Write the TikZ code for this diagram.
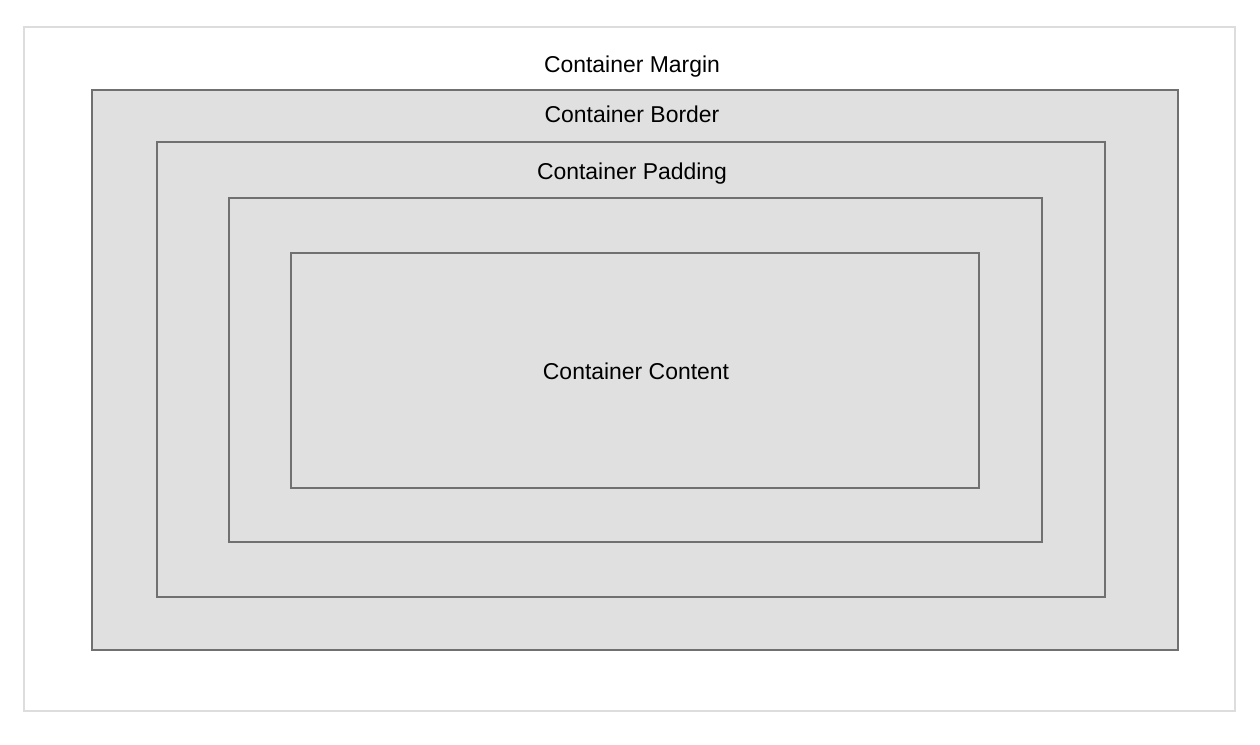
\documentclass[tikz,border=0pt]{standalone}
\usepackage{fontspec}
\setmainfont{Liberation Sans}
\definecolor{boxfill}{RGB}{224,224,224}
\definecolor{boxline}{RGB}{112,112,112}
\definecolor{frameline}{RGB}{221,221,221}
\tikzset{
  layerbox/.style={draw=boxline,fill=boxfill,line width=1.1pt},
  layerlabel/.style={anchor=base,inner sep=0pt,font=\fontsize{17.2}{20}\selectfont}
}
\begin{document}
\begin{tikzpicture}[x=0.75pt,y=0.75pt,yscale=-1,xscale=1]
\useasboundingbox (0,0) rectangle (1260,745);
\fill[white] (0,0) rectangle (1260,745);

%Shape: Outer frame
\draw[frameline,line width=2.2pt] (24,27) rectangle (1235,711);

%Shape: Rectangle [border]
\draw[layerbox] (92,90) rectangle (1178,650);
%Shape: Rectangle [padding]
\draw[layerbox] (157,142) rectangle (1105,597);
%Shape: Rectangle [padding inner]
\draw[layerbox] (229,198) rectangle (1042,542);
%Shape: Rectangle [content]
\draw[layerbox] (291,253) rectangle (979,488);

% Text Node
\node[layerlabel] (margin) at (632,73) {Container Margin};
% Text Node
\node[layerlabel] (border) at (632,123) {Container Border};
% Text Node
\node[layerlabel] (padding) at (632,180) {Container Padding};
% Text Node
\node[layerlabel] (content) at (636,379) {Container Content};

\end{tikzpicture}
\end{document}
